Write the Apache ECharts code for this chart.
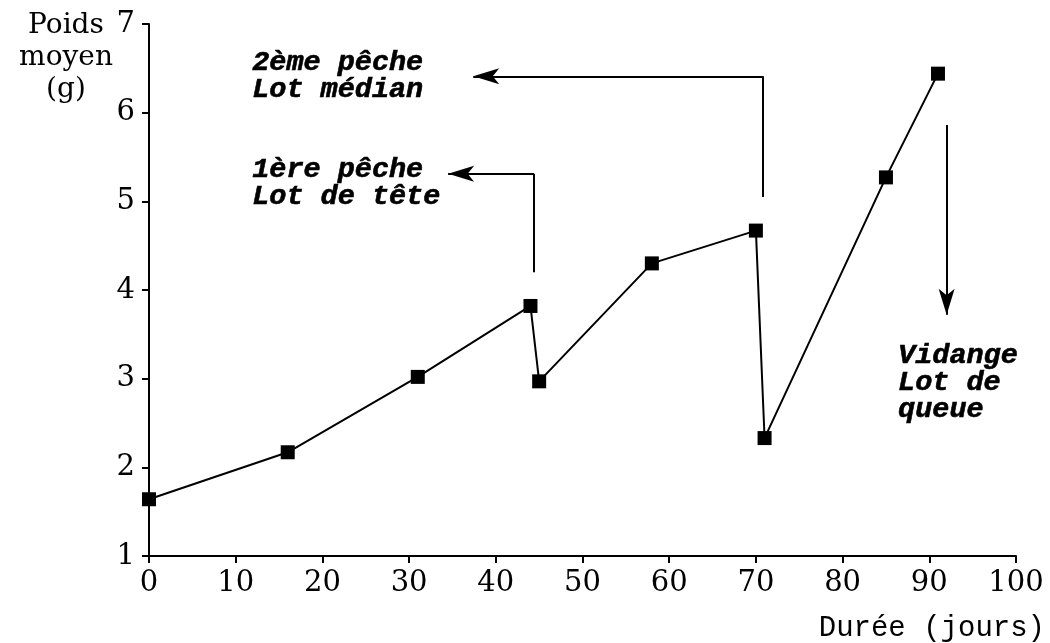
<!DOCTYPE html>
<html>
<head>
<meta charset="utf-8">
<script src="https://cdn.jsdelivr.net/npm/echarts@6/dist/echarts.min.js"></script>
<style>
  html, body { margin: 0; padding: 0; background: #fff; }
  #chart { width: 1050px; height: 643px; }
</style>
</head>
<body>
<div id="chart"></div>
<script>
// ---- data ----
const days = [0, 16, 31, 44, 45, 58, 70, 71, 85, 91];
const weight = [1.64, 2.17, 3.02, 3.82, 2.97, 4.30, 4.67, 2.33, 5.27, 6.44];

// annotation arrows (data coordinates): path points, arrow at last point
const arrowPeche1 = [[44.4, 4.20], [44.4, 5.31], [34.5, 5.31]];
const arrowPeche2 = [[70.8, 5.05], [70.8, 6.41], [37.4, 6.41]];
const arrowVidange = [[92.0, 5.86], [92.0, 3.72]];

// annotation texts (anchor = left / vertical middle)
const noteAnchors = [[11.9, 6.41], [11.9, 5.20], [86.4, 2.95]];
const noteTexts = ['2ème pêche\nLot médian', '1ère pêche\nLot de tête', 'Vidange\nLot de\nqueue'];

const yAxisTitle = 'Poids\nmoyen\n(g)';
const xAxisTitle = 'Durée (jours)';

// ---- build ----
function pathToSegments(path) {
  const segs = [];
  for (let i = 0; i < path.length - 1; i++) {
    const last = i === path.length - 2;
    segs.push([
      { coord: path[i], symbol: 'none' },
      { coord: path[i + 1], symbol: last ? 'arrow' : 'none', symbolSize: [12, 26] }
    ]);
  }
  return segs;
}
const arrowSegments = [].concat(
  pathToSegments(arrowPeche1),
  pathToSegments(arrowPeche2),
  pathToSegments(arrowVidange)
);

const labelFont = 'DejaVu Serif';
const noteFont = 'Liberation Mono';

const chart = echarts.init(document.getElementById('chart'));
chart.setOption({
  animation: false,
  backgroundColor: '#fff',
  grid: { left: 149, right: 34, top: 24, bottom: 87 },
  xAxis: {
    type: 'value', min: 0, max: 100, interval: 10,
    splitLine: { show: false },
    axisLine: { show: true, onZero: false, lineStyle: { color: '#000', width: 2 } },
    axisTick: { show: true, length: 7, lineStyle: { color: '#000', width: 2 } },
    axisLabel: { color: '#000', fontFamily: labelFont, fontSize: 29, margin: 13 }
  },
  yAxis: {
    type: 'value', min: 1, max: 7, interval: 1,
    splitLine: { show: false },
    axisLine: { show: true, onZero: false, lineStyle: { color: '#000', width: 2 } },
    axisTick: { show: true, length: 7, lineStyle: { color: '#000', width: 2 } },
    axisLabel: { color: '#000', fontFamily: labelFont, fontSize: 29, margin: 14 }
  },
  graphic: [
    {
      type: 'text', x: 66, y: 10,
      style: {
        text: yAxisTitle, fill: '#000', fontFamily: labelFont, fontSize: 28,
        align: 'center', verticalAlign: 'top', lineHeight: 32
      }
    },
    {
      type: 'text', x: 1045, y: 628,
      style: {
        text: xAxisTitle, fill: '#000', fontFamily: noteFont, fontSize: 29,
        align: 'right', verticalAlign: 'middle'
      }
    }
  ],
  series: [
    {
      type: 'line',
      data: days.map((d, i) => [d, weight[i]]),
      symbol: 'rect', symbolSize: 14,
      itemStyle: { color: '#000' },
      lineStyle: { color: '#000', width: 2 },
      z: 3,
      markLine: {
        silent: true, animation: false,
        label: { show: false },
        lineStyle: { color: '#000', width: 2, type: 'solid' },
        emphasis: { disabled: true },
        data: arrowSegments
      }
    },
    {
      type: 'scatter',
      data: noteAnchors,
      symbolSize: 0,
      silent: true,
      itemStyle: { opacity: 1, color: '#000' },
      label: {
        show: true, position: 'right', distance: 0,
        formatter: p => noteTexts[p.dataIndex],
        color: '#000', opacity: 1, fontFamily: noteFont, fontStyle: 'italic', fontWeight: 'bold',
        textBorderColor: '#000', textBorderWidth: 0.6,
        fontSize: 28.5, lineHeight: 27, align: 'left', verticalAlign: 'middle'
      }
    }
  ]
});
</script>
</body>
</html>
